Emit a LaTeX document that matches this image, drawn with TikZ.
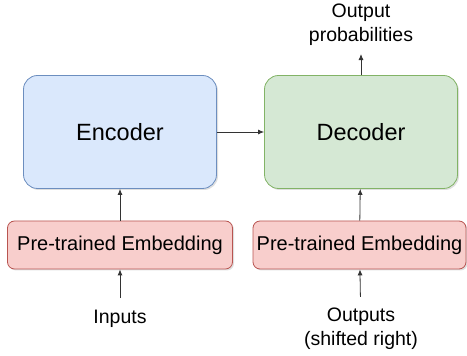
\documentclass[tikz,border=0pt]{standalone}
\usepackage{fontspec}
\setmainfont{Liberation Sans}
\usetikzlibrary{arrows.meta,shadows}
\definecolor{encfill}{HTML}{DAE8FC}
\definecolor{encline}{HTML}{6C8EBF}
\definecolor{decfill}{HTML}{D5E8D4}
\definecolor{decline}{HTML}{82B366}
\definecolor{embfill}{HTML}{F8CECC}
\definecolor{embline}{HTML}{B85450}
\definecolor{arrowgray}{HTML}{333333}
\begin{document}
\begin{tikzpicture}[x=1pt,y=1pt]
 \tikzset{block/.style={draw, rounded corners=14pt, line width=0.8pt, minimum width=193pt, minimum height=113pt, font=\fontsize{23.5}{28}\selectfont, drop shadow={shadow xshift=1.5pt, shadow yshift=-1.5pt, opacity=0.25}}}
 \tikzset{embed/.style={draw, rounded corners=7pt, line width=0.8pt, minimum height=48pt, inner sep=0pt, font=\fontsize{20}{24}\selectfont, fill=embfill, draw=embline, drop shadow={shadow xshift=1.5pt, shadow yshift=-1.5pt, opacity=0.25}}}
 \tikzset{label/.style={align=center, inner sep=0pt, font=\fontsize{19.5}{24}\selectfont}}
 \tikzset{directed/.style={-{Latex[length=6pt,width=5pt]}, line width=0.8pt, color=arrowgray}}
  \useasboundingbox (0,0) rectangle (467,356);
  \node[block, fill=encfill, draw=encline] (Enc) at (120,224) {Encoder};
  \node[block, fill=decfill, draw=decline] (Dec) at (361,224) {Decoder};
  \node[embed, minimum width=225pt] (EmbIn) at (120,111) {Pre-trained Embedding};
  \node[embed, minimum width=213pt] (EmbOut) at (359.5,111) {Pre-trained Embedding};
  \node[label] (In) at (120,37) {Inputs};
  \node[label] (Out) at (361,27) {Outputs\\(shifted right)};
  \node[label] (Prob) at (361,331) {Output\\probabilities};
  \draw[directed, shorten <=12pt] (In) -- (EmbIn);
  \draw[directed, shorten <=11pt] (Out) -- (EmbOut);
  \draw[directed] (EmbIn) -- (Enc);
  \draw[directed] (EmbOut) -- (Dec);
  \draw[directed] (Enc) -- (Dec);
  \draw[directed, shorten >=8pt] (Dec) -- (Prob);
\end{tikzpicture}
\end{document}
